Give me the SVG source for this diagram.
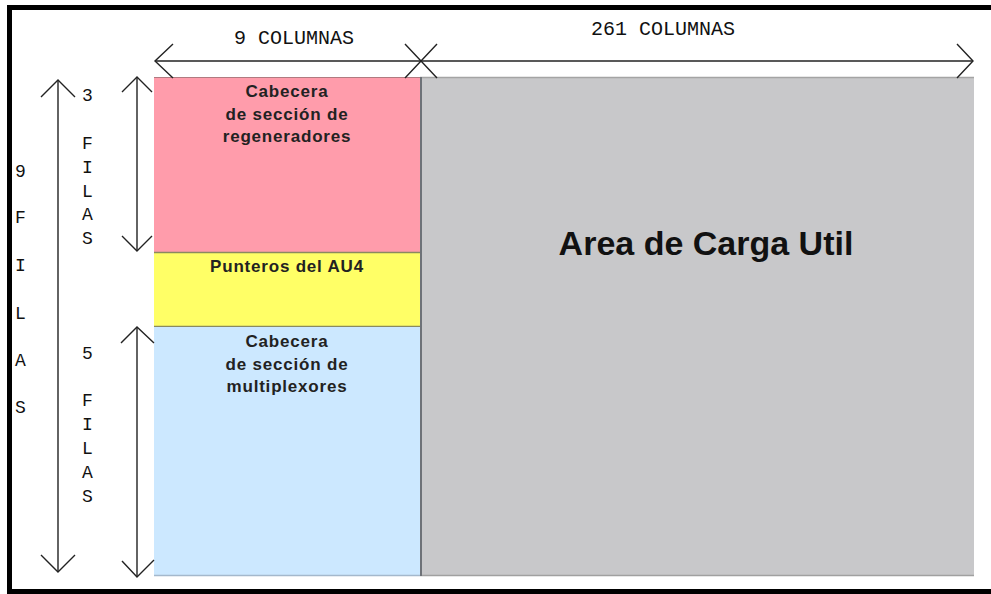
<svg xmlns="http://www.w3.org/2000/svg" width="991" height="594" viewBox="0 0 991 594">
<style>
.lbl{font-family:"Liberation Mono","Courier New",monospace;fill:#111;}
.box{font-family:"Liberation Sans",Arial,sans-serif;font-weight:bold;font-size:17px;letter-spacing:0.8px;fill:#222;text-anchor:middle;}
.ln{stroke:#222;stroke-width:1.4;fill:none;}
</style>
<rect x="0" y="0" width="991" height="594" fill="#fff"/>
<rect x="9.5" y="7.5" width="1000" height="584" fill="none" stroke="#000" stroke-width="5"/>

<g id="area-carga">
<rect x="420" y="77" width="554" height="499" fill="#c8c8ca"/>
<line x1="420" y1="77.5" x2="974" y2="77.5" stroke="#a4a4a4" stroke-width="1.5"/>
<line x1="420" y1="575.5" x2="974" y2="575.5" stroke="#a0a0a0" stroke-width="1.5"/>
<line x1="421" y1="77" x2="421" y2="576" stroke="#6e7278" stroke-width="2"/>
<text x="706" y="255" font-family="Liberation Sans,Arial,sans-serif" font-weight="bold" font-size="34" fill="#111" text-anchor="middle">Area de Carga Util</text>
</g>

<g id="regeneradores">
<rect x="154" y="77" width="266" height="175" fill="#ff9cab"/>
<line x1="154" y1="77.5" x2="420" y2="77.5" stroke="#b07a80" stroke-width="1.2"/>
<text class="box" x="287" y="97">Cabecera</text>
<text class="box" x="287" y="120">de sección de</text>
<text class="box" x="287" y="142">regeneradores</text>
</g>

<g id="punteros">
<rect x="154" y="252" width="266" height="75" fill="#ffff66"/>
<line x1="154" y1="252.5" x2="420" y2="252.5" stroke="#8a8a60" stroke-width="1.4"/>
<line x1="154" y1="326.5" x2="420" y2="326.5" stroke="#8a8a60" stroke-width="1.4"/>
<text class="box" x="287" y="272">Punteros del AU4</text>
</g>

<g id="multiplexores">
<rect x="154" y="327" width="266" height="249" fill="#cce8ff"/>
<line x1="154" y1="575.5" x2="420" y2="575.5" stroke="#a4b8cc" stroke-width="1.5"/>
<text class="box" x="287" y="347">Cabecera</text>
<text class="box" x="287" y="370">de sección de</text>
<text class="box" x="287" y="392">multiplexores</text>
</g>

<g id="connectors">
<line class="ln" x1="155" y1="61" x2="973" y2="61"/>
<polyline class="ln" points="173,44 155,61 173,78"/>
<polyline class="ln" points="405,44 421,61 405,78"/>
<polyline class="ln" points="437,44 421,61 437,78"/>
<polyline class="ln" points="957,44 973,61 957,78"/>

<line class="ln" x1="58" y1="80" x2="58" y2="572"/>
<polyline class="ln" points="41,97 58,80 75,97"/>
<polyline class="ln" points="41,555 58,572 75,555"/>

<line class="ln" x1="137" y1="77" x2="137" y2="251"/>
<polyline class="ln" points="122,92 137,77 152,92"/>
<polyline class="ln" points="122,236 137,251 152,236"/>

<line class="ln" x1="137" y1="327" x2="137" y2="577"/>
<polyline class="ln" points="121,343 137,327 154,343"/>
<polyline class="ln" points="122,561 137,577 154,560"/>
</g>

<g id="labels">
<text class="lbl" x="294" y="44" font-size="20" text-anchor="middle">9 COLUMNAS</text>
<text class="lbl" x="663" y="35" font-size="20" text-anchor="middle">261 COLUMNAS</text>
<g font-size="18" class="lbl">
<text class="lbl" x="15" y="177">9</text>
<text class="lbl" x="15" y="223">F</text>
<text class="lbl" x="15" y="271">I</text>
<text class="lbl" x="15" y="319">L</text>
<text class="lbl" x="15" y="366">A</text>
<text class="lbl" x="15" y="413">S</text>
<text class="lbl" x="82" y="101">3</text>
<text class="lbl" x="82" y="149">F</text>
<text class="lbl" x="82" y="173">I</text>
<text class="lbl" x="82" y="197">L</text>
<text class="lbl" x="82" y="220">A</text>
<text class="lbl" x="82" y="244">S</text>
<text class="lbl" x="82" y="359">5</text>
<text class="lbl" x="82" y="406">F</text>
<text class="lbl" x="82" y="430">I</text>
<text class="lbl" x="82" y="454">L</text>
<text class="lbl" x="82" y="478">A</text>
<text class="lbl" x="82" y="502">S</text>
</g>
</g>
</svg>
